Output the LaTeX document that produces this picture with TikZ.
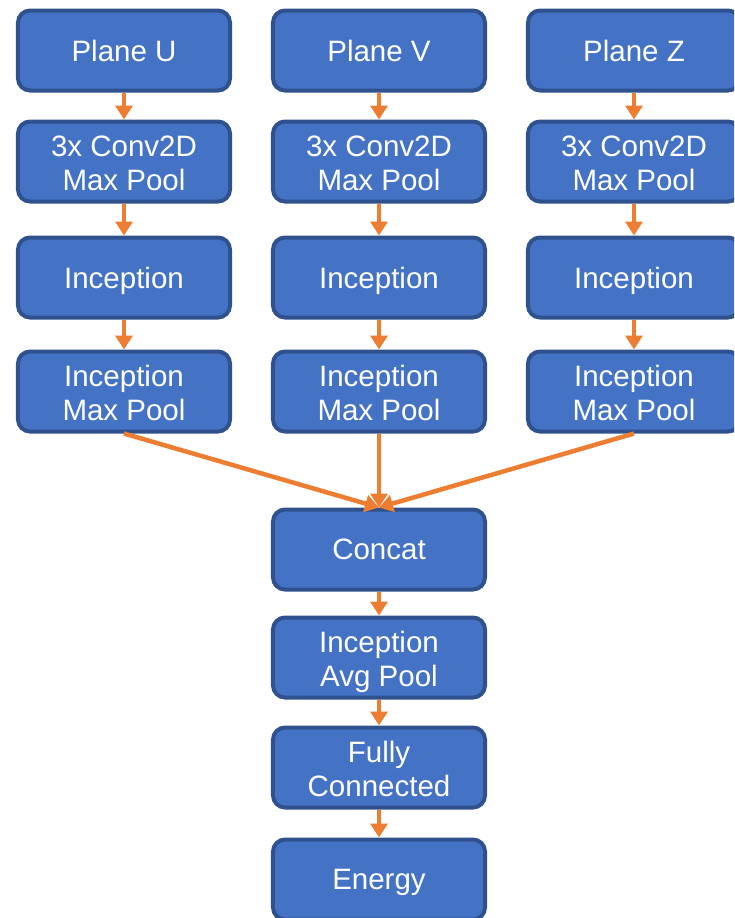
\documentclass[tikz,border=0pt]{standalone}
\usepackage{fontspec}
\setmainfont{Liberation Sans}
\usetikzlibrary{matrix,arrows.meta}
\definecolor{boxfill}{HTML}{4472C4}
\definecolor{boxline}{HTML}{2F528F}
\definecolor{flow}{HTML}{ED7D31}
\newcommand{\twolines}[2]{\begin{tabular}[b]{@{}c@{}}#1\\#2\end{tabular}}
\tikzset{
  layer/.style={draw=boxline, fill=boxfill, line width=4pt, rounded corners=12pt,
    text=white, minimum width=212pt, minimum height=80pt, inner sep=0pt, text depth=0pt,
    font=\fontsize{29.5pt}{34.5pt}\selectfont},
  flowarrow/.style={color=flow, line width=4.5pt, -{Triangle[width=17pt,length=14pt]}}
}

\begin{document}
\begin{tikzpicture}[x=1pt,y=1pt]
\clip (0,0) rectangle (734,-918);
\matrix (m) [matrix of nodes, matrix anchor=m-1-1.center, row sep=28pt, column sep=39pt, nodes={layer}]
  at (124,-50.5)
{ Plane U & Plane V & Plane Z \\[-1pt]
  \twolines{3x Conv2D}{Max Pool} & \twolines{3x Conv2D}{Max Pool} & \twolines{3x Conv2D}{Max Pool} \\[4pt]
  Inception & Inception & Inception \\[2pt]
  \twolines{Inception}{Max Pool} & \twolines{Inception}{Max Pool} & \twolines{Inception}{Max Pool} \\[46pt]
  & Concat & \\[-4pt]
  & \twolines{Inception}{Avg Pool} & \\[-2pt]
  & \twolines{Fully}{Connected} & \\
  & Energy & \\ };
\path[flowarrow]
(m-1-1) edge (m-2-1)
(m-2-1) edge (m-3-1)
(m-3-1) edge (m-4-1);
\path[flowarrow]
(m-1-2) edge (m-2-2)
(m-2-2) edge (m-3-2)
(m-3-2) edge (m-4-2);
\path[flowarrow]
(m-1-3) edge (m-2-3)
(m-2-3) edge (m-3-3)
(m-3-3) edge (m-4-3);
\path[flowarrow]
(m-4-1.south) edge (m-5-2.north)
(m-4-2.south) edge (m-5-2.north)
(m-4-3.south) edge (m-5-2.north);
\path[flowarrow]
(m-5-2) edge (m-6-2)
(m-6-2) edge (m-7-2)
(m-7-2) edge (m-8-2);
\end{tikzpicture}
\end{document}
